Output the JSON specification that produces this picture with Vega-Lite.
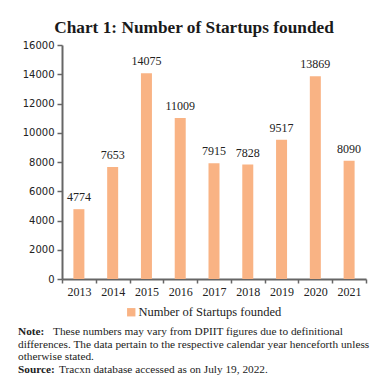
{
  "$schema": "https://vega.github.io/schema/vega-lite/v6.json",
  "padding": {"left": 18, "right": 12, "top": 18, "bottom": 6},
  "background": "white",
  "title": {"text": "Chart 1: Number of Startups founded", "font": "Liberation Serif", "fontSize": 17.3, "fontWeight": "bold", "color": "#1a1a1a", "anchor": "middle", "offset": 4},
  "config": {"view": {"stroke": null}},
  "resolve": {"legend": {"color": "independent"}},
  "spacing": 7,
  "vconcat": [
    {
      "width": 304,
      "height": 234,
      "data": {"values": [
        {"year": "2013", "startups": 4774},
        {"year": "2014", "startups": 7653},
        {"year": "2015", "startups": 14075},
        {"year": "2016", "startups": 11009},
        {"year": "2017", "startups": 7915},
        {"year": "2018", "startups": 7828},
        {"year": "2019", "startups": 9517},
        {"year": "2020", "startups": 13869},
        {"year": "2021", "startups": 8090}
      ]},
      "encoding": {
        "x": {"field": "year", "type": "ordinal", "scale": {"paddingInner": 0, "paddingOuter": 0},
          "axis": {"title": null, "labelAngle": 0, "tickBand": "extent", "domainColor": "#666", "domainWidth": 2, "tickColor": "#666", "tickWidth": 1.5, "tickSize": 4, "labelFont": "Liberation Serif", "labelFontSize": 12, "labelColor": "#222", "labelPadding": 3}},
        "y": {"field": "startups", "type": "quantitative", "scale": {"domain": [0, 16000]},
          "axis": {"title": null, "grid": false, "values": [0, 2000, 4000, 6000, 8000, 10000, 12000, 14000, 16000], "format": "d", "domainColor": "#666", "domainWidth": 2, "tickColor": "#666", "tickWidth": 1.5, "tickSize": 5, "labelFont": "DejaVu Sans", "labelFontSize": 10, "labelColor": "#222", "labelPadding": 3, "minExtent": 44}}
      },
      "layer": [
        {
          "mark": {"type": "bar", "size": 11},
          "encoding": {
            "color": {"datum": "Number of Startups founded", "type": "nominal", "scale": {"range": ["#F9B384"]},
              "legend": {"orient": "none", "legendX": 63, "legendY": 261, "direction": "horizontal", "title": null, "symbolType": "square", "symbolSize": 70, "symbolStrokeWidth": 0, "labelFont": "Liberation Serif", "labelFontSize": 12.5, "labelColor": "#222", "labelOffset": 1}}
          }
        },
        {
          "mark": {"type": "text", "baseline": "bottom", "dy": -5, "font": "Liberation Serif", "fontSize": 12, "color": "#222"},
          "encoding": {"text": {"field": "startups", "type": "quantitative", "format": "d"}}
        }
      ]
    },
    {
      "width": 308,
      "height": 50,
      "data": {"values": [
        {"line": 1, "label": "Note:", "text": "These numbers may vary from DPIIT figures due to definitional"},
        {"line": 2, "label": "", "text": "differences. The data pertain to the respective calendar year henceforth unless"},
        {"line": 3, "label": "", "text": "otherwise stated."},
        {"line": 4, "label": "Source:", "text": "Tracxn database accessed as on July 19, 2022."}
      ]},
      "encoding": {
        "y": {"field": "line", "type": "ordinal", "axis": null},
        "x": {"value": 0}
      },
      "layer": [
        {"mark": {"type": "text", "align": "left", "dx": -44, "font": "Liberation Serif", "fontSize": 11.3, "fontWeight": "bold", "color": "#222"},
         "encoding": {"text": {"field": "label"}}},
        {"transform": [{"filter": "datum.line == 1"}],
         "mark": {"type": "text", "align": "left", "dx": -9, "font": "Liberation Serif", "fontSize": 11.3, "color": "#222"},
         "encoding": {"text": {"field": "text"}}},
        {"transform": [{"filter": "datum.line == 2 || datum.line == 3"}],
         "mark": {"type": "text", "align": "left", "dx": -44, "font": "Liberation Serif", "fontSize": 11.3, "color": "#222"},
         "encoding": {"text": {"field": "text"}}},
        {"transform": [{"filter": "datum.line == 4"}],
         "mark": {"type": "text", "align": "left", "dx": -3, "font": "Liberation Serif", "fontSize": 11.3, "color": "#222"},
         "encoding": {"text": {"field": "text"}}}
      ]
    }
  ]
}
